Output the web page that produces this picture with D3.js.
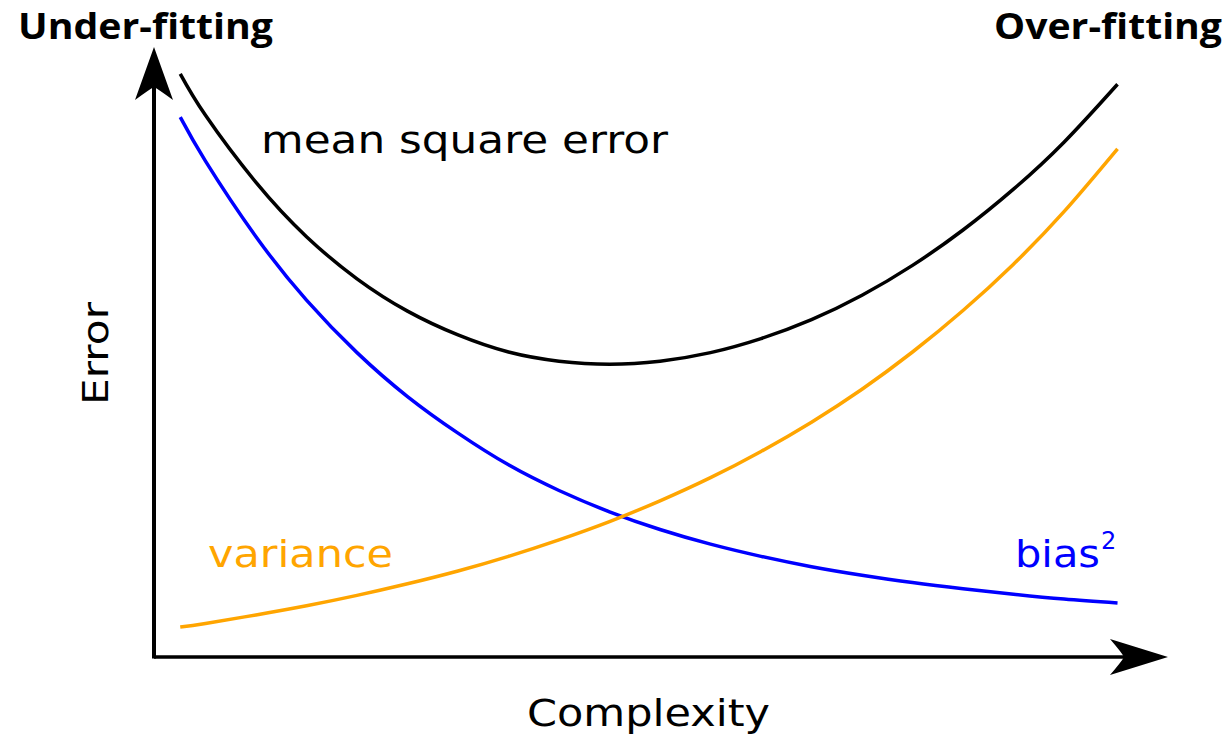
<!DOCTYPE html>
<html>
<head>
<meta charset="utf-8">
<script src="https://cdn.jsdelivr.net/npm/d3@7"></script>
<style>
html,body{margin:0;padding:0;background:#fff;}
svg{display:block;}
</style>
</head>
<body>
<svg id="chart" width="1228" height="741"></svg>
<script>
// ---- data ----
const complexity = [0.25,0.5,1,1.5,2,2.5,3,3.5,4,4.5,5,5.5,6,6.5,7,7.5,8,8.5,9,9.53];
const bias2 =     [8.85,8.13,6.89,5.85,4.99,4.27,3.67,3.15,2.73,2.38,2.09,1.85,1.65,1.48,1.34,1.22,1.12,1.03,0.95,0.885];
const variance =  [0.49,0.55,0.69,0.84,1.01,1.20,1.41,1.65,1.92,2.22,2.56,2.94,3.37,3.85,4.39,5.00,5.68,6.44,7.30,8.33];
const mse =       [9.56,8.88,7.78,6.89,6.20,5.67,5.28,5.00,4.85,4.80,4.85,4.99,5.22,5.53,5.93,6.42,7.00,7.67,8.44,9.39];
const seriesNames = ["mean square error","bias²","variance"];
const axisLabels = {x:"Complexity", y:"Error"};
const cornerLabels = ["Under-fitting","Over-fitting"];

const svg = d3.select("#chart");
const x = d3.scaleLinear().domain([0,10]).range([155,1165]);
const y = d3.scaleLinear().domain([0,10]).range([657,47]);

// axes
const x0 = x(0)-1, y0 = y(0);
svg.append("line").attr("x1",x0).attr("y1",y0).attr("x2",x.range()[1]-40).attr("y2",y0)
  .attr("stroke","#000").attr("stroke-width",3.5);
svg.append("line").attr("x1",x0).attr("y1",y0+1.5).attr("x2",x0).attr("y2",y.range()[1]+40)
  .attr("stroke","#000").attr("stroke-width",4);
// arrow heads
const xt = x.range()[1]+3;
svg.append("path")
  .attr("d",`M${xt},${y0} L${xt-58},${y0-18} Q${xt-46},${y0-4} ${xt-44},${y0} Q${xt-46},${y0+4} ${xt-58},${y0+18} Z`)
  .attr("fill","#000");
const yt = y.range()[1];
svg.append("path")
  .attr("d",`M${x0},${yt} L${x0+19},${yt+53} Q${x0+4},${yt+42} ${x0},${yt+40} Q${x0-4},${yt+42} ${x0-19},${yt+53} Z`)
  .attr("fill","#000");

// curves
const mk = vals => complexity.map((c,i)=>[c,vals[i]]);
const line = d3.line().x(d=>x(d[0])).y(d=>y(d[1])).curve(d3.curveNatural);
[[mse,"#000000"],[bias2,"#0000ff"],[variance,"#ffa500"]].forEach(([v,c])=>{
  svg.append("path").attr("d",line(mk(v))).attr("fill","none")
    .attr("stroke",c).attr("stroke-width",3.5).attr("stroke-linecap","butt");
});

// labels
const reg = "DejaVu Sans";
function txt(t,px,py,size,fill,font,weight,len){
  const e = svg.append("text").attr("x",px).attr("y",py).attr("font-family",font)
    .attr("font-size",size).attr("font-weight",weight||"normal").attr("fill",fill).text(t);
  if(len){e.attr("textLength",len).attr("lengthAdjust","spacingAndGlyphs");}
  return e;
}
txt(cornerLabels[0],18,39,35,"#000","Open Sans","bold",255);
txt(cornerLabels[1],994,39,35,"#000","Open Sans","bold",228);
txt(seriesNames[0],261,153,38,"#000",reg,"normal",407);
txt("variance",208,567,38,"#ffa500",reg,"normal",185);
const b = txt("bias",1015,567,38,"#0000ff",reg,"normal",85);
svg.append("text").attr("x",1101).attr("y",549).attr("font-family",reg).attr("font-size",24)
  .attr("fill","#0000ff").text("2");
txt(axisLabels.x,527,726,38,"#000",reg,"normal",243);
svg.append("text").attr("transform","translate(108,405) rotate(-90)")
  .attr("font-family",reg).attr("font-size",36).attr("fill","#000")
  .attr("textLength",103).attr("lengthAdjust","spacingAndGlyphs").text(axisLabels.y);
</script>
</body>
</html>
